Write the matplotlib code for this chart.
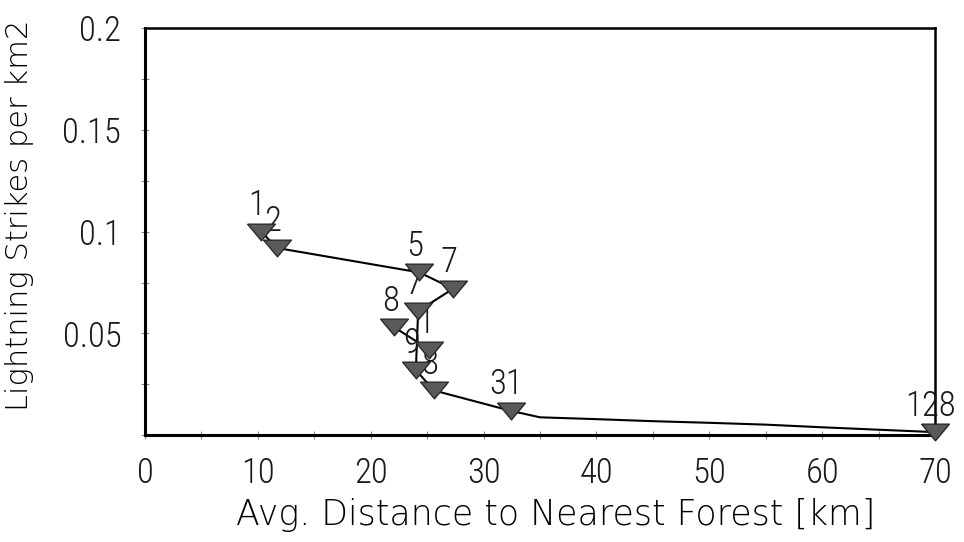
import matplotlib
matplotlib.use('Agg')
import matplotlib.pyplot as plt
from matplotlib.ticker import MultipleLocator

# labelled points (marker centres)
pt_x = [10.3, 11.7, 24.3, 27.3, 24.2, 22.1, 25.2, 24.0, 25.6, 32.4, 70.0]
pt_y = [0.100, 0.092, 0.080, 0.072, 0.061, 0.053, 0.042, 0.032, 0.022, 0.012, 0.0015]
pt_labels = ['1', '2', '5', '7', '7', '8', '1', '9', '8', '31', '128']

# order in which the connecting line visits the points
main_order = [0, 1, 2, 3, 4, 7, 8, 9]
branch_order = [5, 6]

# unmarked part of the line between "31" and "128"
tail_x = [35, 40, 45, 50, 55, 60, 65, 68]
tail_y = [0.0088, 0.0079, 0.0069, 0.0061, 0.0052, 0.0039, 0.0027, 0.0020]

x_ticks = [0, 10, 20, 30, 40, 50, 60, 70]
y_ticks = [0.05, 0.1, 0.15, 0.2]
y_tick_labels = ['0.05', '0.1', '0.15', '0.2']

num_font = dict(family=['Roboto Condensed', 'DejaVu Sans'], weight=300)
lab_font = dict(family=['DejaVu Sans'], weight=200)
txt_color = '#1a1a1a'

fig = plt.figure(figsize=(9.64, 5.42), dpi=100)
ax = fig.add_axes([0.1504, 0.197, 0.8196, 0.751])

# connecting line
line_x = [pt_x[i] for i in main_order] + tail_x + [pt_x[-1]]
line_y = [pt_y[i] for i in main_order] + tail_y + [pt_y[-1]]
ax.plot(line_x, line_y, color='black', linewidth=1.5, zorder=2)
ax.plot([pt_x[i] for i in branch_order], [pt_y[i] for i in branch_order],
        color='black', linewidth=1.5, zorder=2)

# point labels sit above the markers (partly hidden by them)
for x, y, lab in zip(pt_x, pt_y, pt_labels):
    ax.annotate(lab, (x, y), xytext=(-3, 19), textcoords='offset points',
                ha='center', va='center', fontsize=25, color=txt_color,
                zorder=3, annotation_clip=False, **num_font)

# flat down-pointing triangles
tri = [(-1, 0.6), (1, 0.6), (0, -0.6), (-1, 0.6)]
ax.plot(pt_x, pt_y, linestyle='none', marker=tri, markersize=20,
        markerfacecolor='#5a5a5a', markeredgecolor='#2a2a2a',
        markeredgewidth=1, zorder=4, clip_on=False)

ax.set_xlim(0, 70)
ax.set_ylim(0, 0.2)
ax.set_xticks(x_ticks)
ax.set_xticklabels([str(t) for t in x_ticks], fontsize=25, color=txt_color,
                   **num_font)
ax.set_yticks(y_ticks)
ax.set_yticklabels(y_tick_labels, fontsize=25, color=txt_color, **num_font)
ax.xaxis.set_minor_locator(MultipleLocator(5))
ax.yaxis.set_minor_locator(MultipleLocator(0.025))
ax.tick_params(which='both', direction='inout', length=6, width=0.8,
               color='#8a8a8a')
ax.tick_params(axis='x', pad=12)
ax.tick_params(axis='y', pad=14)

for side in ['left', 'bottom']:
    ax.spines[side].set_linewidth(2.2)
for side in ['top', 'right']:
    ax.spines[side].set_linewidth(1.8)

ax.set_xlabel('Avg. Distance to Nearest Forest [km]', fontsize=25,
              color='black', labelpad=0, **lab_font)
ax.set_ylabel('Lightning Strikes per km2', fontsize=22, color='black',
              **lab_font)
ax.yaxis.set_label_coords(-0.14, 0.54)
ax.xaxis.set_label_coords(0.52, -0.155)

fig.savefig('out.png', dpi=100)
